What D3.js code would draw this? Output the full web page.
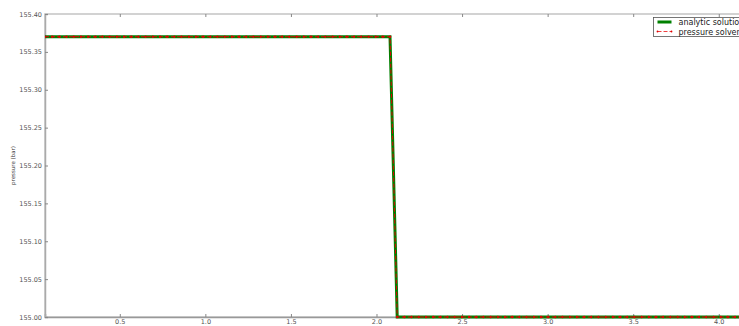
<!DOCTYPE html>
<html>
<head>
<meta charset="utf-8">
<script src="https://cdn.jsdelivr.net/npm/d3@7"></script>
<style>
  html, body { margin: 0; padding: 0; background: #fff; }
  svg { display: block; font-family: "DejaVu Sans", sans-serif; }
</style>
</head>
<body>
<svg id="chart" width="739" height="326"></svg>
<script>
// Cell-centre positions of the grid (km)
const positions = [
  0.063, 0.105, 0.147, 0.189, 0.231, 0.273, 0.315, 0.357, 0.399, 0.441,
  0.483, 0.525, 0.567, 0.609, 0.651, 0.693, 0.735, 0.777, 0.819, 0.861,
  0.903, 0.945, 0.987, 1.029, 1.071, 1.113, 1.155, 1.197, 1.239, 1.281,
  1.323, 1.365, 1.407, 1.449, 1.491, 1.533, 1.575, 1.617, 1.659, 1.701,
  1.743, 1.785, 1.827, 1.869, 1.911, 1.953, 1.995, 2.037, 2.079,
  2.121, 2.163, 2.205, 2.247, 2.289, 2.331, 2.373, 2.415, 2.457, 2.499,
  2.541, 2.583, 2.625, 2.667, 2.709, 2.751, 2.793, 2.835, 2.877, 2.919,
  2.961, 3.003, 3.045, 3.087, 3.129, 3.171, 3.213, 3.255, 3.297, 3.339,
  3.381, 3.423, 3.465, 3.507, 3.549, 3.591, 3.633, 3.675, 3.717, 3.759,
  3.801, 3.843, 3.885, 3.927, 3.969, 4.011, 4.053, 4.095, 4.137, 4.179
];

// Analytic pressure (bar) at each cell
const analytic = [
  155.37, 155.37, 155.37, 155.37, 155.37, 155.37, 155.37, 155.37, 155.37, 155.37,
  155.37, 155.37, 155.37, 155.37, 155.37, 155.37, 155.37, 155.37, 155.37, 155.37,
  155.37, 155.37, 155.37, 155.37, 155.37, 155.37, 155.37, 155.37, 155.37, 155.37,
  155.37, 155.37, 155.37, 155.37, 155.37, 155.37, 155.37, 155.37, 155.37, 155.37,
  155.37, 155.37, 155.37, 155.37, 155.37, 155.37, 155.37, 155.37, 155.37,
  155.00, 155.00, 155.00, 155.00, 155.00, 155.00, 155.00, 155.00, 155.00, 155.00,
  155.00, 155.00, 155.00, 155.00, 155.00, 155.00, 155.00, 155.00, 155.00, 155.00,
  155.00, 155.00, 155.00, 155.00, 155.00, 155.00, 155.00, 155.00, 155.00, 155.00,
  155.00, 155.00, 155.00, 155.00, 155.00, 155.00, 155.00, 155.00, 155.00, 155.00,
  155.00, 155.00, 155.00, 155.00, 155.00, 155.00, 155.00, 155.00, 155.00, 155.00
];

// Pressure from the solver (bar) at each cell
const solver = [
  155.37, 155.37, 155.37, 155.37, 155.37, 155.37, 155.37, 155.37, 155.37, 155.37,
  155.37, 155.37, 155.37, 155.37, 155.37, 155.37, 155.37, 155.37, 155.37, 155.37,
  155.37, 155.37, 155.37, 155.37, 155.37, 155.37, 155.37, 155.37, 155.37, 155.37,
  155.37, 155.37, 155.37, 155.37, 155.37, 155.37, 155.37, 155.37, 155.37, 155.37,
  155.37, 155.37, 155.37, 155.37, 155.37, 155.37, 155.37, 155.37, 155.37,
  155.00, 155.00, 155.00, 155.00, 155.00, 155.00, 155.00, 155.00, 155.00, 155.00,
  155.00, 155.00, 155.00, 155.00, 155.00, 155.00, 155.00, 155.00, 155.00, 155.00,
  155.00, 155.00, 155.00, 155.00, 155.00, 155.00, 155.00, 155.00, 155.00, 155.00,
  155.00, 155.00, 155.00, 155.00, 155.00, 155.00, 155.00, 155.00, 155.00, 155.00,
  155.00, 155.00, 155.00, 155.00, 155.00, 155.00, 155.00, 155.00, 155.00, 155.00
];

const xTicks = [0.5, 1.0, 1.5, 2.0, 2.5, 3.0, 3.5, 4.0];
const yTicks = [155.00, 155.05, 155.10, 155.15, 155.20, 155.25, 155.30, 155.35, 155.40];
const seriesNames = ["analytic solution", "pressure solver"];

const svg = d3.select("#chart");
const mLeft = 45, mTop = 14, mBottom = 317, mRight = 753;

const x = d3.scaleLinear().domain([0.063, 4.2]).range([mLeft, mRight]);
const y = d3.scaleLinear().domain([155.0, 155.4]).range([mBottom, mTop]);

const tickColor = "#555";

// Frame
svg.append("rect")
  .attr("x", mLeft).attr("y", mTop)
  .attr("width", mRight - mLeft).attr("height", mBottom - mTop)
  .attr("fill", "none").attr("stroke", "#c4c4c4").attr("stroke-width", 1.5);

// Bottom axis (ticks pointing inward)
const xAxis = svg.append("g")
  .attr("transform", `translate(0,${mBottom})`)
  .call(d3.axisBottom(x).tickValues(xTicks).tickSize(-3).tickPadding(2).tickFormat(d3.format(".1f")));
xAxis.select(".domain").attr("stroke", "#999").attr("stroke-width", 1.5);
xAxis.selectAll(".tick line").attr("stroke", "#888");
xAxis.selectAll("text").attr("fill", tickColor).attr("font-size", 6.5).attr("font-family", "DejaVu Sans");

// Top axis ticks
const xTop = svg.append("g")
  .attr("transform", `translate(0,${mTop})`)
  .call(d3.axisTop(x).tickValues(xTicks).tickSize(-3).tickFormat(""));
xTop.select(".domain").remove();
xTop.selectAll(".tick line").attr("stroke", "#888");

// Left axis
const yAxis = svg.append("g")
  .attr("transform", `translate(${mLeft},0)`)
  .call(d3.axisLeft(y).tickValues(yTicks).tickSize(-3).tickPadding(3).tickFormat(d3.format(".2f")));
yAxis.select(".domain").attr("stroke", "#aaa").attr("stroke-width", 1.5);
yAxis.selectAll(".tick line").attr("stroke", "#888");
yAxis.selectAll("text").attr("fill", tickColor).attr("font-size", 6.5).attr("font-family", "DejaVu Sans");

// Y label
svg.append("text")
  .attr("transform", `translate(15,${(mTop + mBottom) / 2}) rotate(-90)`)
  .attr("text-anchor", "middle")
  .attr("font-size", 5.5)
  .attr("fill", "#333")
  .text("pressure (bar)");

// Plot area clip
svg.append("clipPath").attr("id", "plotclip")
  .append("rect").attr("x", mLeft).attr("y", mTop - 4)
  .attr("width", mRight - mLeft).attr("height", mBottom - mTop + 8);

const plot = svg.append("g").attr("clip-path", "url(#plotclip)");

const pts = (vals) => positions.map((p, i) => [p, vals[i]]);
const line = d3.line().x(d => x(d[0])).y(d => y(d[1]));

plot.append("path")
  .datum(pts(analytic))
  .attr("d", line)
  .attr("fill", "none")
  .attr("stroke", "#008000")
  .attr("stroke-width", 3);

plot.append("path")
  .datum(pts(solver))
  .attr("d", line)
  .attr("fill", "none")
  .attr("stroke", "#e00000")
  .attr("stroke-width", 1)
  .attr("stroke-dasharray", "4,2");

plot.selectAll("circle.pt")
  .data(pts(solver))
  .join("circle")
  .attr("class", "pt")
  .attr("cx", d => x(d[0]))
  .attr("cy", d => y(d[1]))
  .attr("r", 1.2)
  .attr("fill", "#e00000");

// Legend
const lg = svg.append("g").attr("transform", "translate(653.5,17.5)");
lg.append("rect")
  .attr("x", 0).attr("y", 0).attr("width", 130).attr("height", 19)
  .attr("fill", "#fff").attr("stroke", "#555").attr("stroke-width", 0.8);
lg.append("line").attr("x1", 4).attr("x2", 18).attr("y1", 4.5).attr("y2", 4.5)
  .attr("stroke", "#008000").attr("stroke-width", 3);
lg.append("line").attr("x1", 4).attr("x2", 18).attr("y1", 14).attr("y2", 14)
  .attr("stroke", "#f04040").attr("stroke-width", 1).attr("stroke-dasharray", "4,2");
lg.append("circle").attr("cx", 4).attr("cy", 14).attr("r", 0.9).attr("fill", "#e00000");
lg.append("circle").attr("cx", 18).attr("cy", 14).attr("r", 0.9).attr("fill", "#e00000");
lg.selectAll("text.lbl")
  .data(seriesNames)
  .join("text")
  .attr("class", "lbl")
  .attr("x", 25)
  .attr("y", (d, i) => 7.5 + i * 9.5)
  .attr("font-size", 8)
  .attr("fill", "#222")
  .text(d => d);
</script>
</body>
</html>
